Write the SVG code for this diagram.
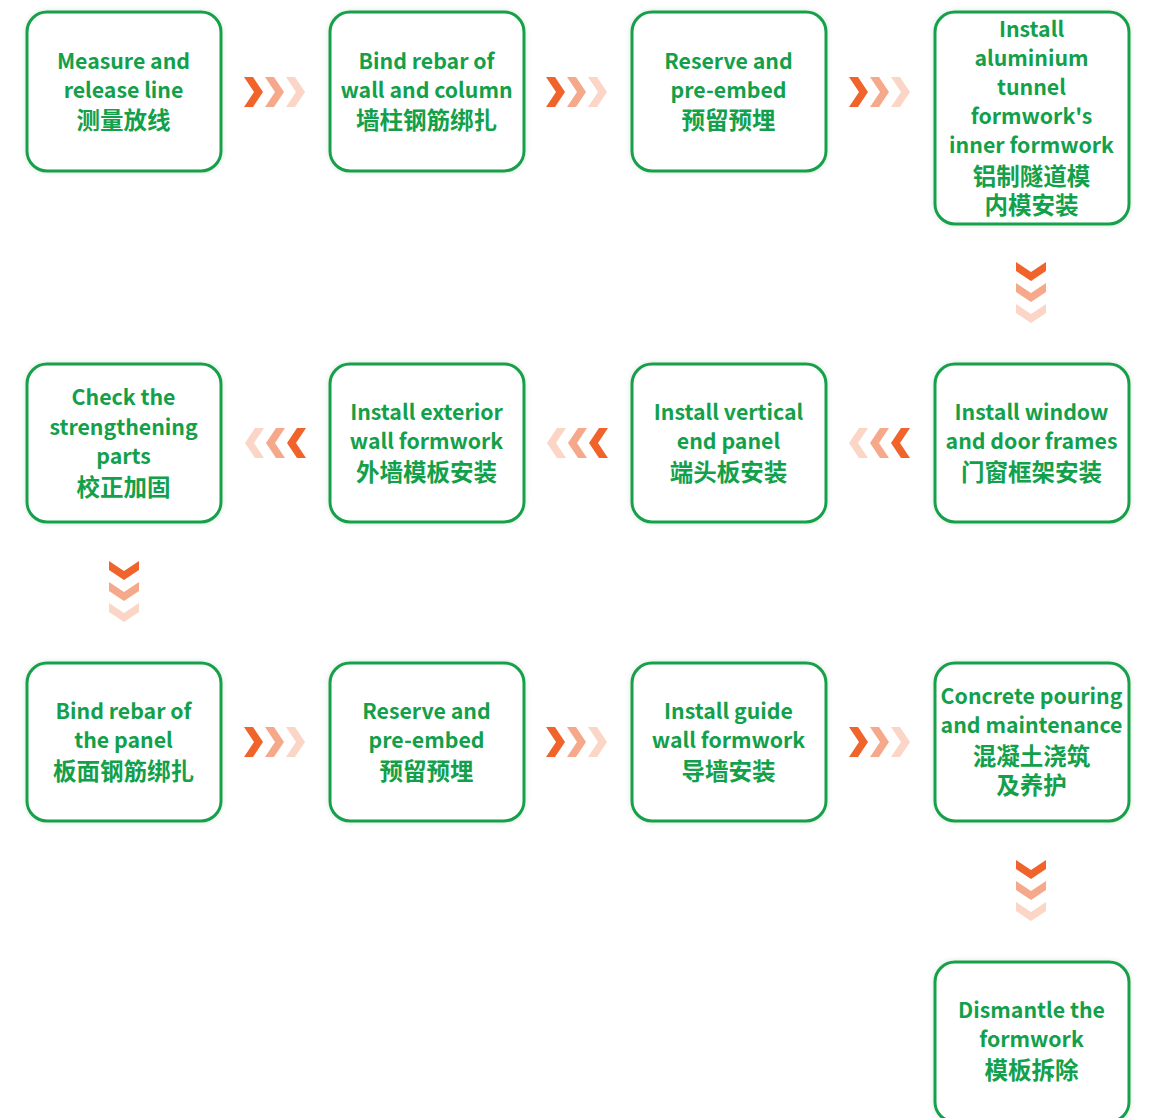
<svg xmlns="http://www.w3.org/2000/svg" width="1150" height="1118" viewBox="0 0 1150 1118">
<defs>
<style>
.box{fill:#fff;stroke:#13a04a;stroke-width:3;filter:url(#sh)}
.t{font-family:"Noto Sans CJK SC","Noto Sans",sans-serif;font-weight:700;font-size:21.3px;fill:#13a04a;text-anchor:middle}
.zh{font-size:23.5px}
.c1{fill:#f0632a}.c2{fill:#f6a98a}.c3{fill:#fbd6c6}
</style>
<filter id="sh" x="-10%" y="-10%" width="120%" height="120%">
<feGaussianBlur in="SourceAlpha" stdDeviation="2.5"/>
<feColorMatrix values="0 0 0 0 0.2 0 0 0 0 0.5 0 0 0 0 0.3 0 0 0 0.35 0"/>
<feMerge><feMergeNode/><feMergeNode in="SourceGraphic"/></feMerge>
</filter>
<polygon id="chev" points="0,-15 9,-15 19,0 9,15 0,15 10,0"/>
<g id="right"><use href="#chev" class="c1" x="0"/><use href="#chev" class="c2" x="21"/><use href="#chev" class="c3" x="42"/></g>
<g id="left"><use href="#chev" class="c1" transform="scale(-1,1) translate(-63,0)" x="0"/><use href="#chev" class="c2" transform="scale(-1,1) translate(-63,0)" x="21"/><use href="#chev" class="c3" transform="scale(-1,1) translate(-63,0)" x="42"/></g>
<g id="down"><use href="#chev" class="c1" transform="rotate(90)" x="0"/><use href="#chev" class="c2" transform="rotate(90)" x="21"/><use href="#chev" class="c3" transform="rotate(90)" x="42"/></g>
</defs>
<rect width="1150" height="1118" fill="#fff"/>
<g id="connectors">
<use href="#right" x="244" y="92"/>
<use href="#right" x="546" y="92"/>
<use href="#right" x="849" y="92"/>
<use href="#down" x="1031" y="262"/>
<use href="#left" x="847" y="443"/>
<use href="#left" x="545" y="443"/>
<use href="#left" x="243" y="443"/>
<use href="#down" x="124" y="561"/>
<use href="#right" x="244" y="742"/>
<use href="#right" x="546" y="742"/>
<use href="#right" x="849" y="742"/>
<use href="#down" x="1031" y="860"/>
</g>
<g id="n1"><rect class="box" x="27" y="12" width="194" height="159" rx="20"/>
<text class="t"><tspan x="123.5" y="69">Measure and</tspan><tspan x="123.5" y="98">release line</tspan><tspan class="zh" x="123.5" y="129">测量放线</tspan></text></g>
<g id="n2"><rect class="box" x="330" y="12" width="194" height="159" rx="20"/>
<text class="t"><tspan x="426.5" y="69">Bind rebar of</tspan><tspan x="426.5" y="98">wall and column</tspan><tspan class="zh" x="426.5" y="129">墙柱钢筋绑扎</tspan></text></g>
<g id="n3"><rect class="box" x="632" y="12" width="194" height="159" rx="20"/>
<text class="t"><tspan x="728.5" y="69">Reserve and</tspan><tspan x="728.5" y="98">pre-embed</tspan><tspan class="zh" x="728.5" y="129">预留预埋</tspan></text></g>
<g id="n4"><rect class="box" x="935" y="12" width="194" height="212" rx="20"/>
<text class="t"><tspan x="1031.5" y="37">Install</tspan><tspan x="1031.5" y="66">aluminium</tspan><tspan x="1031.5" y="95">tunnel</tspan><tspan x="1031.5" y="124">formwork's</tspan><tspan x="1031.5" y="153">inner formwork</tspan><tspan class="zh" x="1031.5" y="185">铝制隧道模</tspan><tspan class="zh" x="1031.5" y="214">内模安装</tspan></text></g>
<g id="n5"><rect class="box" x="935" y="364" width="194" height="158" rx="20"/>
<text class="t"><tspan x="1031.5" y="420">Install window</tspan><tspan x="1031.5" y="449">and door frames</tspan><tspan class="zh" x="1031.5" y="481">门窗框架安装</tspan></text></g>
<g id="n6"><rect class="box" x="632" y="364" width="194" height="158" rx="20"/>
<text class="t"><tspan x="728.5" y="420">Install vertical</tspan><tspan x="728.5" y="449">end panel</tspan><tspan class="zh" x="728.5" y="481">端头板安装</tspan></text></g>
<g id="n7"><rect class="box" x="330" y="364" width="194" height="158" rx="20"/>
<text class="t"><tspan x="426.5" y="420">Install exterior</tspan><tspan x="426.5" y="449">wall formwork</tspan><tspan class="zh" x="426.5" y="481">外墙模板安装</tspan></text></g>
<g id="n8"><rect class="box" x="27" y="364" width="194" height="158" rx="20"/>
<text class="t"><tspan x="123.5" y="405">Check the</tspan><tspan x="123.5" y="435">strengthening</tspan><tspan x="123.5" y="464">parts</tspan><tspan class="zh" x="123.5" y="496">校正加固</tspan></text></g>
<g id="n9"><rect class="box" x="27" y="663" width="194" height="158" rx="20"/>
<text class="t"><tspan x="123.5" y="719">Bind rebar of</tspan><tspan x="123.5" y="748">the panel</tspan><tspan class="zh" x="123.5" y="780">板面钢筋绑扎</tspan></text></g>
<g id="n10"><rect class="box" x="330" y="663" width="194" height="158" rx="20"/>
<text class="t"><tspan x="426.5" y="719">Reserve and</tspan><tspan x="426.5" y="748">pre-embed</tspan><tspan class="zh" x="426.5" y="780">预留预埋</tspan></text></g>
<g id="n11"><rect class="box" x="632" y="663" width="194" height="158" rx="20"/>
<text class="t"><tspan x="728.5" y="719">Install guide</tspan><tspan x="728.5" y="748">wall formwork</tspan><tspan class="zh" x="728.5" y="780">导墙安装</tspan></text></g>
<g id="n12"><rect class="box" x="935" y="663" width="194" height="158" rx="20"/>
<text class="t"><tspan x="1031.5" y="704">Concrete pouring</tspan><tspan x="1031.5" y="733">and maintenance</tspan><tspan class="zh" x="1031.5" y="765">混凝土浇筑</tspan><tspan class="zh" x="1031.5" y="794">及养护</tspan></text></g>
<g id="n13"><rect class="box" x="935" y="962" width="194" height="160" rx="20"/>
<text class="t"><tspan x="1031.5" y="1018">Dismantle the</tspan><tspan x="1031.5" y="1047">formwork</tspan><tspan class="zh" x="1031.5" y="1079">模板拆除</tspan></text></g>
</svg>
